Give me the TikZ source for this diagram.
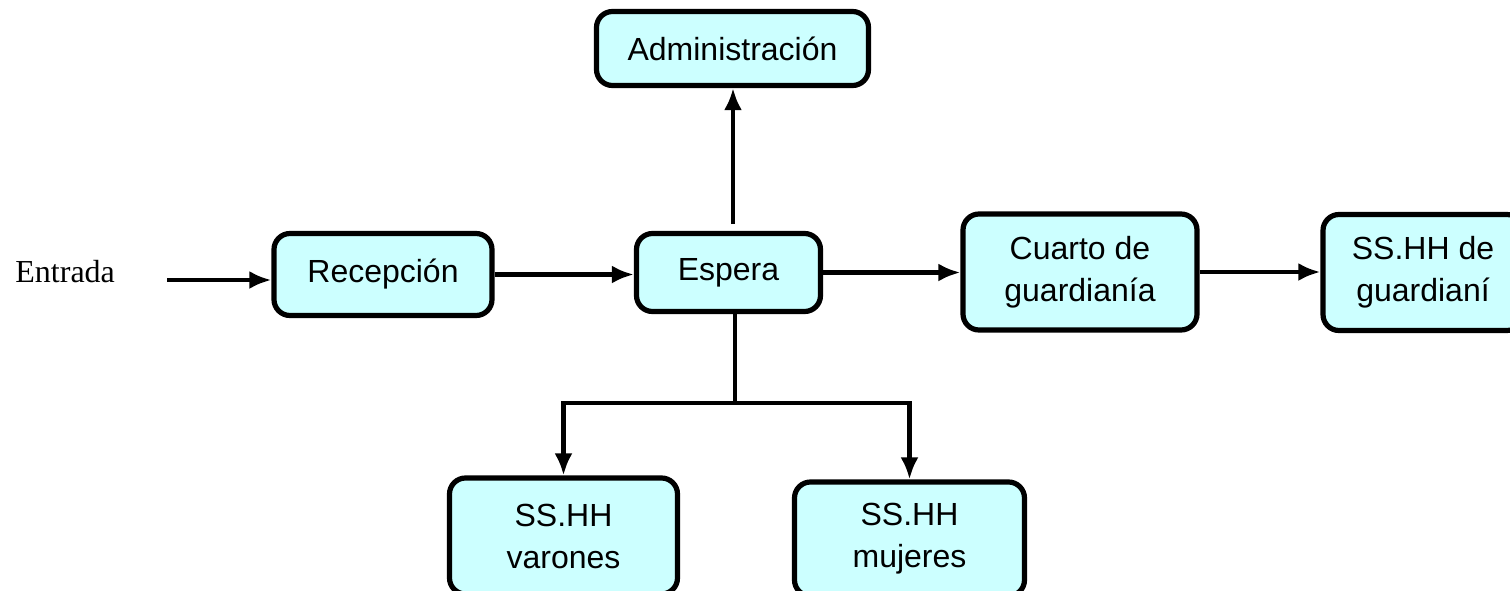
\documentclass[tikz,border=0pt]{standalone}
\usepackage{fontspec}
\setmainfont{Liberation Serif}
\newfontfamily\boxfont{Liberation Sans}
\usepackage{tikz}
\usetikzlibrary{arrows.meta}
\usetikzlibrary{calc}
\definecolor{cajacyan}{HTML}{CCFFFF}
\tikzset{caja/.style={draw, line width=2.6pt, rounded corners=8pt, fill=cajacyan, align=center, inner sep=0pt, font=\boxfont\fontsize{16}{21}\selectfont},
flecha/.style={-{Latex[length=11pt,width=9pt]}, line width=2.4pt}}

\begin{document}
\begin{tikzpicture}[x=0.5pt,y=-0.5pt]
\useasboundingbox (0,0) rectangle (1510,590);
\clip (0,0) rectangle (1510,590);

\node[caja, minimum width=136pt, minimum height=37pt] (adm) at (732.5,48.5) {Administraci\'on};
\node[caja, minimum width=109pt, minimum height=41pt] (rec) at (383,274.5) {Recepci\'on};
\node[caja, minimum width=92pt, minimum height=39pt] (esp) at (728.5,272.5) {Espera};
\node[caja, minimum width=117pt, minimum height=58pt] (cua) at (1080,272) {Cuarto de\\guardian\'ia};
\node[caja, minimum width=100pt, minimum height=58pt] (gua) at (1423,272.5) {SS.HH de\\guardian\'i};
\node[caja, minimum width=114pt, minimum height=58pt] (var) at (563.5,536) {SS.HH\\varones};
\node[caja, minimum width=115pt, minimum height=57pt] (muj) at (909.5,539) {SS.HH\\mujeres};
\node[anchor=base west, inner sep=0pt, font=\fontsize{16}{19}\selectfont] (ent) at (15,282) {Entrada};

\coordinate (inicio) at (167,280);
\coordinate (arriba) at (733,224);
\coordinate (ramal) at (735,403);

\draw[flecha] (inicio) -- (inicio -| rec.west);
\draw[flecha] (rec.east) -- (rec.east -| esp.west);
\draw[flecha] (esp.east) -- (esp.east -| cua.west);
\draw[flecha] (cua.east) -- (cua.east -| gua.west);
\draw[flecha] (arriba) -- (arriba |- adm.south);

\draw[line width=2.4pt] (ramal |- esp.south) -- (ramal);
\draw[flecha] (ramal) -| (var.north);
\draw[flecha] (ramal) -| (muj.north);
\end{tikzpicture}
\end{document}
